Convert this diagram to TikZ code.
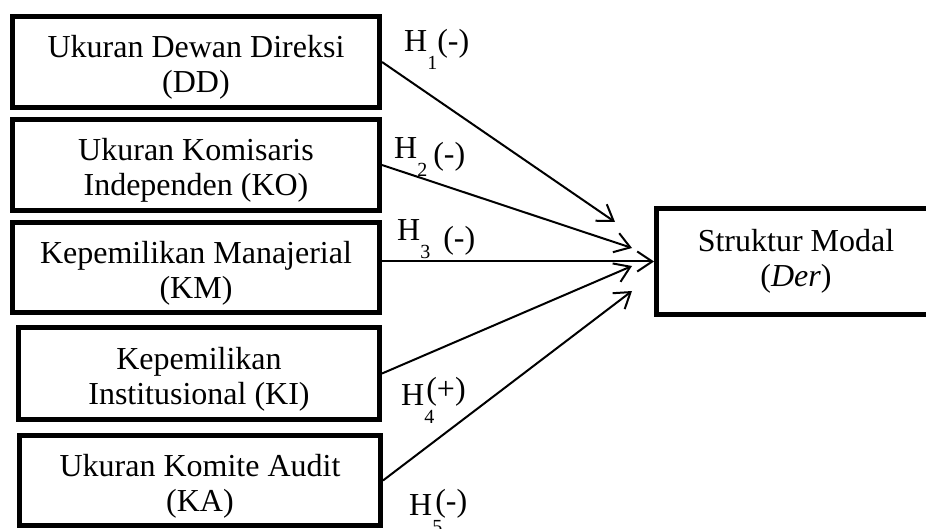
\documentclass[tikz,border=0pt]{standalone}
\usepackage{fontspec}
\setmainfont{Liberation Serif}
\usetikzlibrary{arrows.meta}

\newcommand{\hyp}[4]{H\raisebox{-18pt}{\fontsize{20}{20}\selectfont #1}\hspace{#2}\raisebox{#3}{#4}}

\begin{document}
\begin{tikzpicture}[x=1pt,y=-1pt,
	var/.style={draw,line width=5pt,align=center,inner sep=0pt,text height=68pt,font=\fontsize{32}{35}\selectfont},
	dep/.style={draw,line width=5pt,align=center,inner sep=0pt,font=\fontsize{32}{35}\selectfont},
	hlabel/.style={anchor=base west,inner sep=0pt,font=\fontsize{32}{35}\selectfont},
	link/.style={line width=2pt,-{Straight Barb[length=15pt,width=20pt]}}]
	
	\useasboundingbox (0,0) rectangle (926,529);
	
	% variabel independen
	\node[var,minimum width=367pt,minimum height=91pt] (dd) at (196,62) {Ukuran Dewan Direksi\\(DD)};
	\node[var,minimum width=367pt,minimum height=91pt] (ko) at (196,165) {Ukuran Komisaris\\Independen (KO)};
	\node[var,minimum width=367pt,minimum height=90pt] (km) at (196,267.5) {Kepemilikan Manajerial\\(KM)};
	\node[var,minimum width=361pt,minimum height=92pt] (ki) at (199,373.5) {Kepemilikan\\Institusional (KI)};
	\node[var,minimum width=361pt,minimum height=90pt] (ka) at (200,480.5) {Ukuran Komite Audit\\(KA)};
	
	% variabel dependen
	\node[dep,minimum width=279pt,minimum height=106pt] (der) at (796,261.5) {Struktur Modal\\(\textit{Der})};
	
	\coordinate (t1) at (615,222);
	\coordinate (t2) at (632,248);
	\coordinate (t4) at (632,266);
	\coordinate (t5) at (632,291);
	
	\draw[link] (dd.east) -- (t1);
	\draw[link] (ko.east) -- (t2);
	\draw[link] (km.east |- der.west) -- (der.west);
	\draw[link] (ki.east) -- (t4);
	\draw[link] (ka.east) -- (t5);
	
	% hipotesis
	\node[hlabel] (h1) at (404,52) {\hyp{1}{0pt}{0pt}{(-)}};
	\node[hlabel] (h2) at (394,159) {\hyp{2}{6pt}{-6pt}{(-)}};
	\node[hlabel] (h3) at (397,241) {\hyp{3}{13pt}{-8pt}{(-)}};
	\node[hlabel] (h4) at (401,405) {\hyp{4}{-8pt}{6pt}{(+)}};
	\node[hlabel] (h5) at (409,515) {\hyp{5}{-7pt}{4pt}{(-)}};
	
\end{tikzpicture}
\end{document}
